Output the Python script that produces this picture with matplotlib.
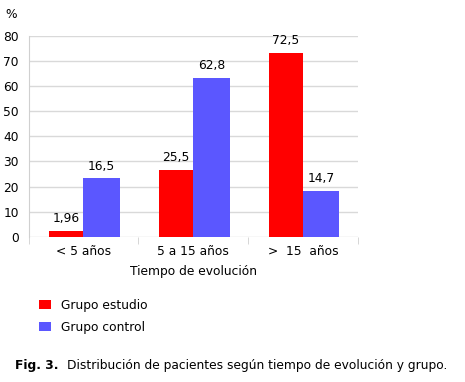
import numpy as np
import matplotlib.pyplot as plt

if __name__ == '__main__':
    groups = ['< 5 años', '5 a 15 años', '>  15  años']
    estudio = [2.4, 26.6, 73.3]
    control = [23.3, 63.3, 18.2]
    estudio_labels = ['1,96', '25,5', '72,5']
    control_labels = ['16,5', '62,8', '14,7']

    fs = 8.8
    plt.rcParams['font.family'] = ['DejaVu Sans']
    fig = plt.figure(figsize=(4.65, 3.82), dpi=100)
    ax = fig.add_axes([0.0613, 0.3804, 0.7087, 0.5254])

    index = np.arange(len(groups))
    bw = 0.31
    b1 = ax.bar(index - bw / 2, estudio, bw, color='#ff0000', label='Grupo estudio', zorder=3)
    b2 = ax.bar(index + bw / 2 + 0.01, control, bw + 0.02, color='#5b57ff', label='Grupo control', zorder=3)

    for rect, txt in zip(b1, estudio_labels):
        ax.annotate(txt, (rect.get_x() + rect.get_width() / 2, rect.get_height()),
                    xytext=(0, 4), textcoords='offset points', ha='center', va='bottom', fontsize=fs)
    for rect, txt in zip(b2, control_labels):
        ax.annotate(txt, (rect.get_x() + rect.get_width() / 2, rect.get_height()),
                    xytext=(0, 4), textcoords='offset points', ha='center', va='bottom', fontsize=fs)

    ax.set_xlim(-0.5, 2.5)
    ax.set_ylim(0, 80)
    ax.set_yticks(np.arange(0, 81, 10))
    ax.set_xticks(index)
    ax.set_xticklabels(groups, fontsize=fs)
    ax.tick_params(axis='x', length=0, pad=6)
    ax.set_xticks([-0.5, 0.5, 1.5, 2.5], minor=True)
    ax.tick_params(axis='x', which='minor', length=5, color='#d0d0d0', direction='out')
    ax.tick_params(axis='y', labelsize=fs, length=0, pad=7)
    ax.grid(axis='y', color='#d9d9d9', linewidth=1, zorder=0)
    for s in ['top', 'right', 'bottom']:
        ax.spines[s].set_visible(False)
    ax.spines['left'].set_color('#d0d0d0')
    ax.set_xlabel('Tiempo de evolución', fontsize=fs, labelpad=5)
    fig.text(5 / 465, 1 - 15 / 382, '%', fontsize=fs, va='center')

    fig.legend(handles=[b1, b2], loc='upper left', bbox_to_anchor=(28 / 465, 1 - 288 / 382),
               frameon=False, fontsize=fs, handlelength=1.0, handleheight=0.75,
               handletextpad=0.8, labelspacing=0.75)

    fig.text(15 / 465, 1 - 365 / 382, 'Fig. 3.', fontsize=fs, fontweight='bold', va='center')
    fig.text(67 / 465, 1 - 365 / 382, 'Distribución de pacientes según tiempo de evolución y grupo.',
             fontsize=fs, va='center')

    fig.savefig('out.png', dpi=100)
